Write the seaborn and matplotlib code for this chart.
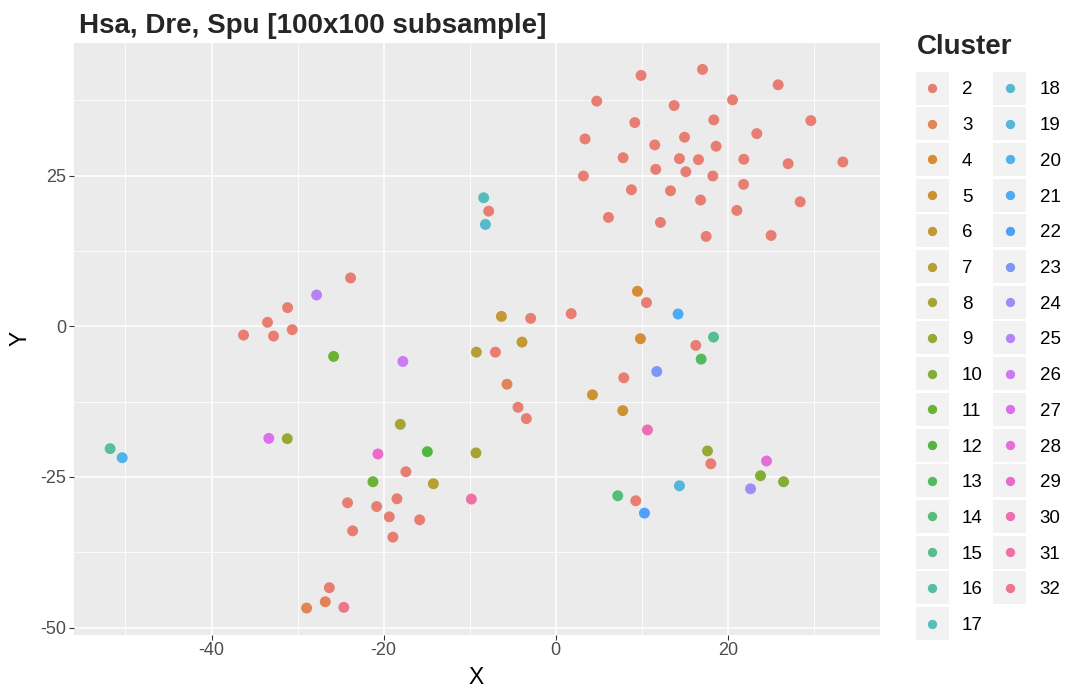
import numpy as np
import pandas as pd
import matplotlib
matplotlib.use("Agg")
import matplotlib.pyplot as plt
import seaborn as sns
from matplotlib.patches import Rectangle

# ---------------- data ----------------
title = "Hsa, Dre, Spu [100x100 subsample]"
clusters = [str(k) for k in range(2, 33)]

x_vals = [
    9.92, 17.06, 25.85, 4.77, 13.76, 20.55, 9.19, 18.37, 29.65, 3.41,
    14.97, 23.37, 11.51, 18.64, 7.83, 14.38, 16.59, 21.86, 27.01, 33.37,
    11.63, 15.12, 18.26, 3.22, 8.80, 13.34, 21.83, 16.83, 21.05, 28.41,
    6.13, 12.17, 17.48, 25.03,
    -7.79, -2.91, 1.80, -23.84, -31.16, -33.49, -30.62, -36.28, -32.79, 10.55,
    16.28, 7.91, -7.01, -4.38, -3.41, -17.41, -18.45, -19.34, -15.81, -18.92,
    -24.19, -20.81, -23.60, -26.31, 18.02, 9.30,
    -28.95, -26.78, -5.66,
    9.50, 9.85,
    4.27, 7.79,
    -6.31, -3.92,
    -9.22, -14.22,
    -18.06, -9.27,
    17.64, -31.20,
    23.80, 26.48,
    -25.81, -21.24,
    -14.92,
    16.90,
    7.21,
    18.34,
    -51.78,
    -8.37,
    -8.17,
    14.38,
    -50.38,
    14.22,
    10.31,
    11.74,
    22.64,
    -27.79,
    -17.76,
    -33.34,
    24.50,
    -20.66,
    10.66,
    -9.80,
    -24.62,
]
y_vals = [
    41.65, 42.65, 40.10, 37.39, 36.66, 37.60, 33.83, 34.28, 34.16, 31.11,
    31.40, 32.00, 30.12, 29.90, 28.00, 27.84, 27.67, 27.74, 27.00, 27.29,
    26.07, 25.67, 24.96, 24.96, 22.68, 22.51, 23.58, 20.97, 19.25, 20.68,
    18.09, 17.25, 14.93, 15.09,
    19.13, 1.33, 2.11, 8.04, 3.11, 0.67, -0.55, -1.45, -1.61, 3.94,
    -3.16, -8.54, -4.28, -13.43, -15.31, -24.13, -28.62, -31.61, -32.11, -34.99,
    -29.28, -29.90, -33.94, -43.38, -22.80, -28.95,
    -46.76, -45.71, -9.60,
    5.82, -2.05,
    -11.36, -13.98,
    1.66, -2.61,
    -4.28, -26.12,
    -16.26, -21.01,
    -20.68, -18.64,
    -24.79, -25.79,
    -4.99, -25.79,
    -20.80,
    -5.44,
    -28.12,
    -1.78,
    -20.30,
    21.35,
    16.92,
    -26.46,
    -21.80,
    2.05,
    -31.00,
    -7.49,
    -26.96,
    5.21,
    -5.82,
    -18.59,
    -22.35,
    -21.18,
    -17.19,
    -28.67,
    -46.64,
]
cluster_ids = (
    ["2"] * 34
    + ["2"] * 26
    + ["3"] * 3
    + ["4", "4", "5", "5", "6", "6", "7", "7", "8", "8", "9", "9", "10", "10", "11", "11"]
    + ["12", "13", "14", "15", "16", "17", "18", "19", "20", "21", "22", "23",
       "24", "25", "26", "27", "28", "29", "30", "31", "32"]
)

x_ticks = [-40, -20, 0, 20]
y_ticks = [-50, -25, 0, 25]


# ---------------- ggplot-like hue palette ----------------
def _lin(t):
    return t / 12.92 if t <= 0.04045 else ((t + 0.055) / 1.055) ** 2.4


def _gam(t):
    t = 1.055 * t ** (1 / 2.4) - 0.055 if t > 0.0031308 else 12.92 * t
    return min(max(t, 0.0), 1.0)


def hcl_rgb(h, c=100.0, l=65.0):
    hr = np.deg2rad(h)
    U, V = c * np.cos(hr), c * np.sin(hr)
    Xn, Yn, Zn = 95.047, 100.0, 108.883
    Y = Yn * ((l + 16) / 116) ** 3 if l > 8 else Yn * l / 903.3
    den = Xn + 15 * Yn + 3 * Zn
    un, vn = 4 * Xn / den, 9 * Yn / den
    u = U / (13 * l) + un
    v = V / (13 * l) + vn
    X = 9 * Y * u / (4 * v)
    Z = -X / 3 - 5 * Y + 3 * Y / v
    X, Y, Z = X / 100, Y / 100, Z / 100
    rgb = [3.240479 * X - 1.537150 * Y - 0.498535 * Z,
           -0.969256 * X + 1.875992 * Y + 0.041556 * Z,
           0.055648 * X - 0.204043 * Y + 1.057311 * Z]
    return [_gam(t) for t in rgb]


def as_display(rgb):
    # the reference screenshot shows the sRGB colours as re-encoded for a P3 display
    r, g, b = [_lin(t) for t in rgb]
    return (_gam(0.8225 * r + 0.1774 * g),
            _gam(0.0332 * r + 0.9669 * g),
            _gam(0.0171 * r + 0.0724 * g + 0.9108 * b))


n = len(clusters)
hues = np.linspace(15, 375, n + 1)[:-1]
palette = {k: as_display(hcl_rgb(h)) for k, h in zip(clusters, hues)}

df = pd.DataFrame({"X": x_vals, "Y": y_vals, "Cluster": cluster_ids})

# ---------------- figure ----------------
sns.set_theme(style="darkgrid")
plt.rcParams["font.family"] = ["Liberation Sans", "DejaVu Sans"]

W, H = 1086, 700
fig = plt.figure(figsize=(W / 100, H / 100), dpi=100)
fig.patch.set_facecolor("white")

px_l, px_r, px_t, px_b = 73.5, 879.5, 42.5, 635.0
ax = fig.add_axes([px_l / W, 1 - px_b / H, (px_r - px_l) / W, (px_b - px_t) / H])
ax.set_facecolor("#EBEBEB")

sns.scatterplot(data=df, x="X", y="Y", hue="Cluster", hue_order=clusters,
                palette=palette, s=62, linewidth=0, alpha=1.0,
                legend=False, ax=ax, zorder=3)

# limits with 5% expansion (ggplot default)
xr = max(x_vals) - min(x_vals)
yr = max(y_vals) - min(y_vals)
xlim = (min(x_vals) - 0.05 * xr, max(x_vals) + 0.05 * xr)
ylim = (min(y_vals) - 0.05 * yr, max(y_vals) + 0.05 * yr)
ax.set_xlim(*xlim)
ax.set_ylim(*ylim)

ax.set_xticks(x_ticks)
ax.set_yticks(y_ticks)
xs = x_ticks[1] - x_ticks[0]
ys = y_ticks[1] - y_ticks[0]
xminor = [t + xs / 2 for t in [x_ticks[0] - xs] + x_ticks if xlim[0] <= t + xs / 2 <= xlim[1]]
yminor = [t + ys / 2 for t in [y_ticks[0] - ys] + y_ticks if ylim[0] <= t + ys / 2 <= ylim[1]]
ax.set_xticks(xminor, minor=True)
ax.set_yticks(yminor, minor=True)
ax.set_xticklabels([str(t) for t in x_ticks])
ax.set_yticklabels([str(t) for t in y_ticks])

ax.grid(which="major", color="white", linewidth=1.1)
ax.grid(which="minor", color="white", linewidth=0.55)
ax.set_axisbelow(True)
for s in ax.spines.values():
    s.set_visible(False)

ax.tick_params(which="major", axis="both", length=3.3, width=0.8, color="#333333",
               labelsize=13, labelcolor="#4D4D4D", pad=2.0)
ax.tick_params(which="minor", length=0)
ax.tick_params(axis="x", which="major", bottom=True)
ax.tick_params(axis="y", which="major", left=True)

ax.set_xlabel("X", fontsize=16.5, color="black", labelpad=5)
ax.set_ylabel("Y", fontsize=16.5, color="black", labelpad=6)

fig.text(79 / W, 1 - 33 / H, title, fontsize=20, fontweight="bold",
         ha="left", va="baseline")

# ---------------- legend (ggplot-style keys, laid out in pixel units) ----------------
lax = fig.add_axes([0, 0, 1, 1], facecolor="none")
lax.set_xlim(0, W)
lax.set_ylim(H, 0)
lax.axis("off")

lax.text(917, 54, "Cluster", fontsize=20, fontweight="bold",
         ha="left", va="baseline")

rows_per_col = int(np.ceil(len(clusters) / 2))
key0_x, key0_y = 915.5, 71.5
key_size, row_pitch, col_pitch = 33.0, 35.7, 77.7
for i, k in enumerate(clusters):
    col, row = divmod(i, rows_per_col)
    kx = key0_x + col * col_pitch
    ky = key0_y + row * row_pitch
    lax.add_patch(Rectangle((kx, ky), key_size, key_size, facecolor="#F2F2F2",
                            edgecolor="none"))
    lax.scatter([kx + key_size / 2], [ky + key_size / 2], s=45, color=palette[k],
                linewidth=0, zorder=3)
    lax.text(kx + key_size + 13.5, ky + key_size / 2, k, fontsize=13.5,
             ha="left", va="center_baseline", color="black")

fig.savefig("out.png", dpi=100)
